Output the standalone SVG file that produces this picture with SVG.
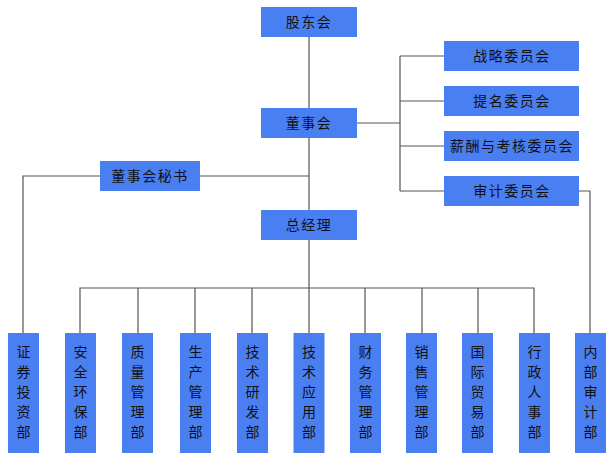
<svg xmlns="http://www.w3.org/2000/svg" width="610" height="458" viewBox="0 0 610 458">
<style>
.box{fill:#4a7ff2}
.t{font-family:"Noto Sans CJK SC","Liberation Sans",sans-serif;font-size:14px;fill:#111;text-anchor:middle;letter-spacing:1.5px}
.v{font-family:"Noto Sans CJK SC","Liberation Sans",sans-serif;font-size:14px;fill:#111;text-anchor:middle}
.ln{stroke:#555;stroke-width:1.2;fill:none}
</style>
<rect width="610" height="458" fill="#fff"/>
<g id="connectors" class="ln">
<path d="M309,37V333"/>
<path d="M357,123H400"/>
<path d="M400,56V191"/>
<path d="M400,56H444M400,101H444M400,146H444M400,191H444"/>
<path d="M579,191H590V333"/>
<path d="M309,176H200M100,176H23V333"/>
<path d="M80,333V288H534V333"/>
<path d="M138,288V333M195,288V333M252,288V333M365,288V333M422,288V333M478,288V333"/>
</g>
<g id="n-gudonghui"><rect class="box" x="261" y="7" width="96" height="30"/><text class="t" x="309" y="27">股东会</text></g>
<g id="n-dongshihui"><rect class="box" x="261" y="108" width="96" height="30"/><text class="t" x="309" y="128">董事会</text></g>
<g id="n-zongjingli"><rect class="box" x="261" y="210" width="96" height="30"/><text class="t" x="309" y="230">总经理</text></g>
<g id="n-mishu"><rect class="box" x="100" y="161" width="100" height="30"/><text class="t" x="150" y="181">董事会秘书</text></g>
<g id="n-zhanlue"><rect class="box" x="444" y="41" width="135" height="30"/><text class="t" x="512" y="61">战略委员会</text></g>
<g id="n-timing"><rect class="box" x="444" y="86" width="135" height="30"/><text class="t" x="512" y="106">提名委员会</text></g>
<g id="n-xinchou"><rect class="box" x="444" y="131" width="135" height="30"/><text class="t" x="512" y="151">薪酬与考核委员会</text></g>
<g id="n-shenji"><rect class="box" x="444" y="176" width="135" height="30"/><text class="t" x="512" y="196">审计委员会</text></g>
<g id="d1"><rect class="box" x="8" y="333" width="31" height="120"/><text class="v" x="23.5"><tspan x="23.5" y="357">证</tspan><tspan x="23.5" y="377">券</tspan><tspan x="23.5" y="397">投</tspan><tspan x="23.5" y="417">资</tspan><tspan x="23.5" y="437">部</tspan></text></g>
<g id="d2"><rect class="box" x="65" y="333" width="31" height="120"/><text class="v"><tspan x="80.5" y="357">安</tspan><tspan x="80.5" y="377">全</tspan><tspan x="80.5" y="397">环</tspan><tspan x="80.5" y="417">保</tspan><tspan x="80.5" y="437">部</tspan></text></g>
<g id="d3"><rect class="box" x="122" y="333" width="31" height="120"/><text class="v"><tspan x="137.5" y="357">质</tspan><tspan x="137.5" y="377">量</tspan><tspan x="137.5" y="397">管</tspan><tspan x="137.5" y="417">理</tspan><tspan x="137.5" y="437">部</tspan></text></g>
<g id="d4"><rect class="box" x="180" y="333" width="31" height="120"/><text class="v"><tspan x="195.5" y="357">生</tspan><tspan x="195.5" y="377">产</tspan><tspan x="195.5" y="397">管</tspan><tspan x="195.5" y="417">理</tspan><tspan x="195.5" y="437">部</tspan></text></g>
<g id="d5"><rect class="box" x="237" y="333" width="31" height="120"/><text class="v"><tspan x="252.5" y="357">技</tspan><tspan x="252.5" y="377">术</tspan><tspan x="252.5" y="397">研</tspan><tspan x="252.5" y="417">发</tspan><tspan x="252.5" y="437">部</tspan></text></g>
<g id="d6"><rect class="box" x="293.5" y="333" width="31" height="120"/><text class="v"><tspan x="309" y="357">技</tspan><tspan x="309" y="377">术</tspan><tspan x="309" y="397">应</tspan><tspan x="309" y="417">用</tspan><tspan x="309" y="437">部</tspan></text></g>
<g id="d7"><rect class="box" x="350" y="333" width="31" height="120"/><text class="v"><tspan x="365.5" y="357">财</tspan><tspan x="365.5" y="377">务</tspan><tspan x="365.5" y="397">管</tspan><tspan x="365.5" y="417">理</tspan><tspan x="365.5" y="437">部</tspan></text></g>
<g id="d8"><rect class="box" x="406" y="333" width="31" height="120"/><text class="v"><tspan x="421.5" y="357">销</tspan><tspan x="421.5" y="377">售</tspan><tspan x="421.5" y="397">管</tspan><tspan x="421.5" y="417">理</tspan><tspan x="421.5" y="437">部</tspan></text></g>
<g id="d9"><rect class="box" x="462" y="333" width="31" height="120"/><text class="v"><tspan x="477.5" y="357">国</tspan><tspan x="477.5" y="377">际</tspan><tspan x="477.5" y="397">贸</tspan><tspan x="477.5" y="417">易</tspan><tspan x="477.5" y="437">部</tspan></text></g>
<g id="d10"><rect class="box" x="519" y="333" width="31" height="120"/><text class="v"><tspan x="534.5" y="357">行</tspan><tspan x="534.5" y="377">政</tspan><tspan x="534.5" y="397">人</tspan><tspan x="534.5" y="417">事</tspan><tspan x="534.5" y="437">部</tspan></text></g>
<g id="d11"><rect class="box" x="575" y="333" width="31" height="120"/><text class="v"><tspan x="590.5" y="357">内</tspan><tspan x="590.5" y="377">部</tspan><tspan x="590.5" y="397">审</tspan><tspan x="590.5" y="417">计</tspan><tspan x="590.5" y="437">部</tspan></text></g>
</svg>
